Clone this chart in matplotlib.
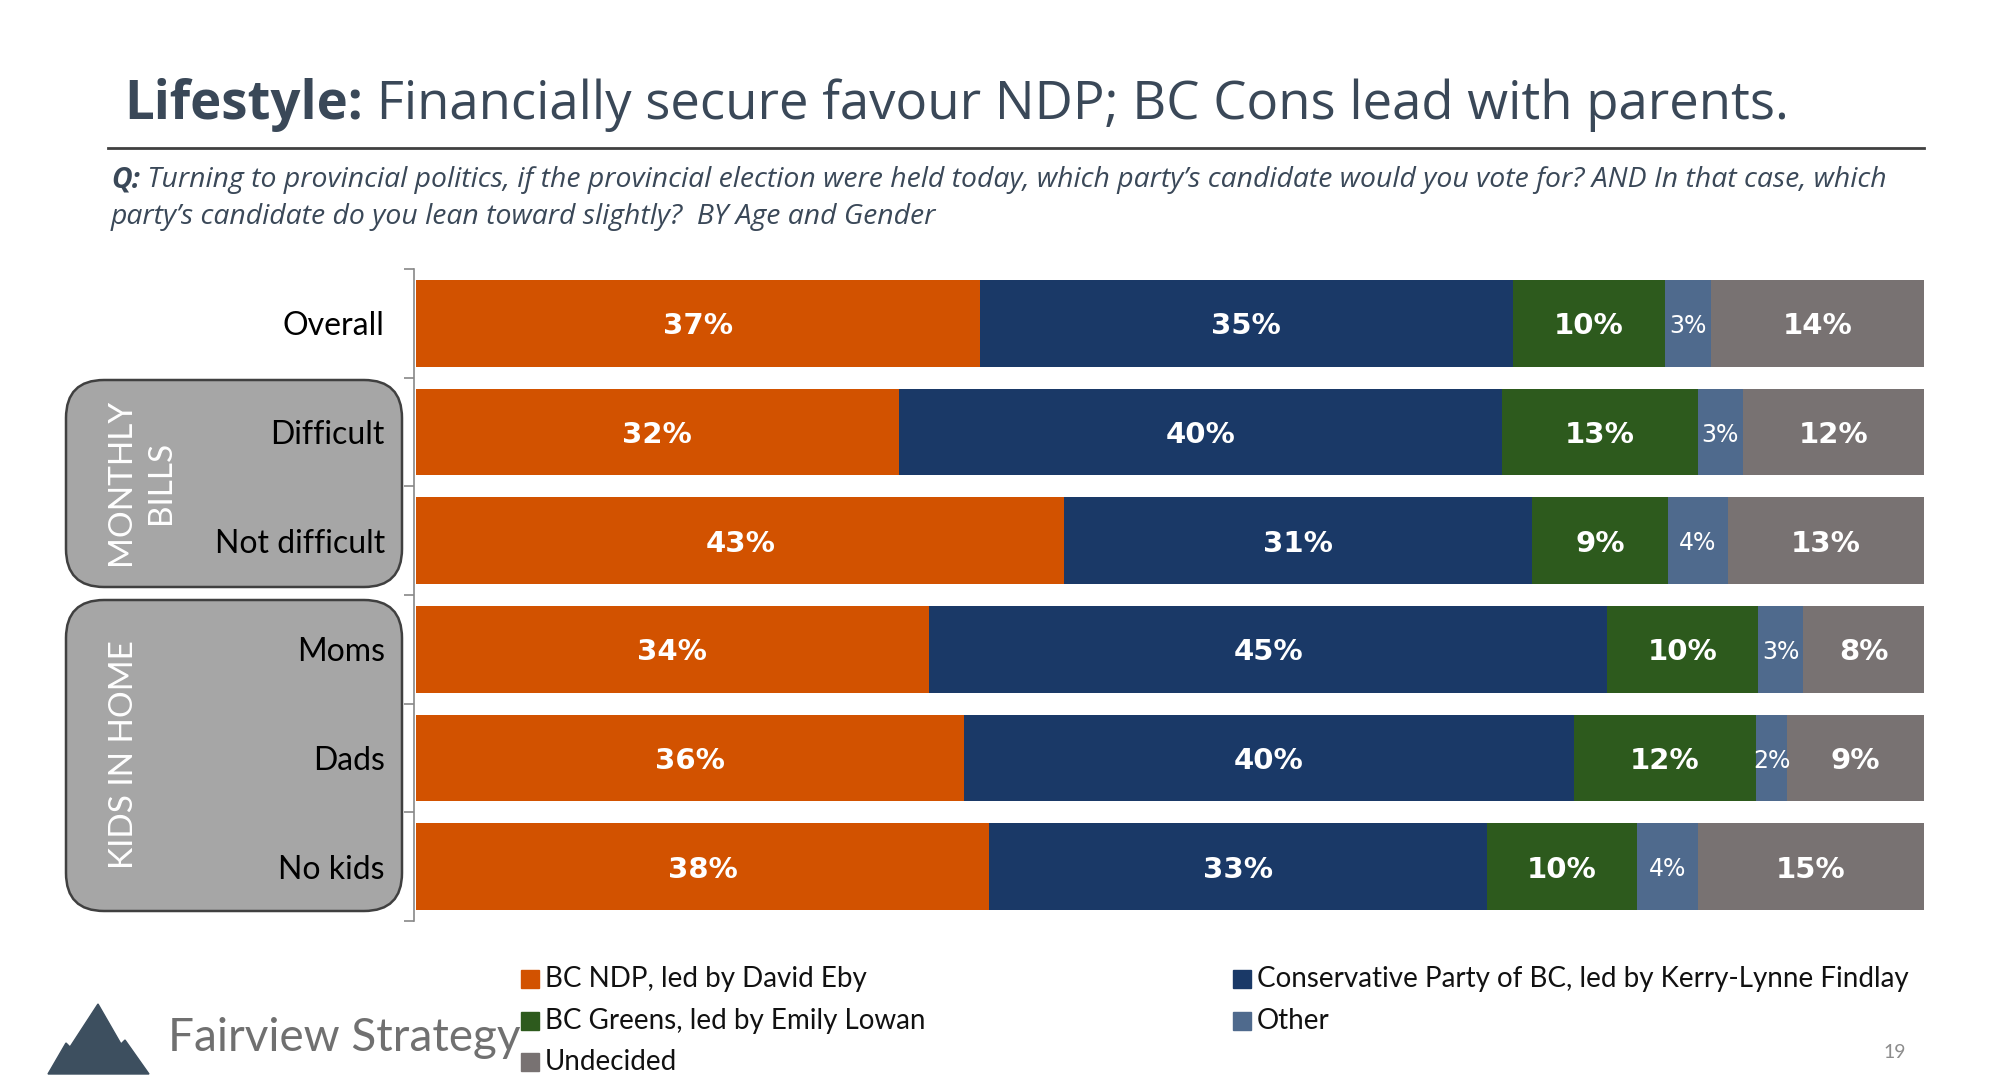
import matplotlib
matplotlib.use('Agg')
import matplotlib.pyplot as plt
import numpy as np
from matplotlib.patches import FancyBboxPatch, Rectangle, Polygon

# data (percent)
categories = ['Overall', 'Difficult', 'Not difficult', 'Moms', 'Dads', 'No kids']
parties = ['BC NDP, led by David Eby',
           'Conservative Party of BC, led by Kerry-Lynne Findlay',
           'BC Greens, led by Emily Lowan', 'Other', 'Undecided']
ndp = [37, 32, 43, 34, 36, 38]
cons = [35, 40, 31, 45, 40, 33]
greens = [10, 13, 9, 10, 12, 10]
other = [3, 3, 4, 3, 2, 4]
undecided = [14, 12, 13, 8, 9, 15]

colors = ['#D25200', '#1A3967', '#2D5A1D', '#4F6A8D', '#787272']
title_c = '#3A4858'

series = np.array([ndp, cons, greens, other, undecided], dtype=float)
shares = series / series.sum(axis=0) * 100  # 100% stacked

fig = plt.figure(figsize=(20, 10.84), dpi=100)

# overlay in pixel coords for slide furniture
ov = fig.add_axes([0, 0, 1, 1], zorder=0)
ov.set_xlim(0, 2000)
ov.set_ylim(1084, 0)
ov.axis('off')

ax = fig.add_axes([414 / 2000, 163 / 1084, 1510 / 2000, 652 / 1084], zorder=1)
ax.set_facecolor('none')

y = np.arange(len(categories))
left = np.zeros(len(categories))
for k, (name, col) in enumerate(zip(parties, colors)):
    ax.barh(y, shares[k], left=left, height=0.8, color=col, label=name)
    for i in range(len(categories)):
        cx = left[i] + shares[k][i] / 2
        if name == 'Other':
            ax.text(cx, i, f'{int(series[k][i])}%', ha='center',
                    va='center_baseline', color='white', fontsize=17,
                    family='DejaVu Sans')
        else:
            ax.text(cx, i, f'{int(series[k][i])}%', ha='center',
                    va='center_baseline', color='white', fontsize=21,
                    fontweight='bold', family='DejaVu Sans')
    left += shares[k]

ax.set_xlim(-0.13, 100)
ax.set_ylim(len(categories) - 0.5, -0.5)
ax.set_yticks(y)
ax.set_yticklabels(categories, family='Lato', fontsize=23, color='black')
ax.tick_params(axis='y', which='major', length=0, pad=21)
ax.set_yticks(np.arange(-0.5, len(categories)), minor=True)
ax.tick_params(axis='y', which='minor', length=7, color='#888888', width=1.2)
ax.xaxis.set_visible(False)
for s in ['top', 'right', 'bottom']:
    ax.spines[s].set_visible(False)
ax.spines['left'].set_color('#888888')
ax.spines['left'].set_linewidth(1.2)

# group boxes
for (x0, y0, w, h) in [(66, 380, 336, 207), (66, 600, 336, 311)]:
    ov.add_patch(FancyBboxPatch((x0 + 38, y0 + 38), w - 76, h - 76,
                                boxstyle='round,pad=38', fc='#A6A6A6',
                                ec='#404040', lw=1.8))
ov.text(141, 482, 'MONTHLY\nBILLS', rotation=90, ha='center', va='center',
        color='white', fontsize=24, family='Lato', linespacing=1.45)
ov.text(124, 755, 'KIDS IN HOME', rotation=90, ha='center', va='center',
        color='white', fontsize=24, family='Lato')

# title
t1 = ov.text(124, 119, 'Lifestyle:', fontsize=38, fontweight='bold',
             family='Open Sans', color=title_c, va='baseline')
ov.annotate(' Financially secure favour NDP; BC Cons lead with parents.',
            xy=(1, 0), xycoords=t1, va='bottom', ha='left', fontsize=38,
            family='Open Sans', color=title_c)
ov.plot([108, 1924], [148, 148], color='#404040', lw=2)

# question
q1 = ov.text(111, 187, 'Q:', fontsize=20.4, fontweight='bold', style='italic',
             family='Open Sans', color=title_c, va='baseline')
ov.annotate(" Turning to provincial politics, if the provincial election were held today, "
            "which party\u2019s candidate would you vote for? AND In that case, which",
            xy=(1, 0), xycoords=q1, va='bottom', ha='left', fontsize=20.4,
            style='italic', family='Open Sans', color=title_c)
ov.text(111, 224, "party\u2019s candidate do you lean toward slightly?  BY Age and Gender",
        fontsize=20.4, style='italic', family='Open Sans', color=title_c,
        va='baseline')

# legend (two columns, filled column-wise)
leg_pos = [(521, 979), (1233, 979), (521, 1021), (1233, 1021), (521, 1062)]
for (lx, ly), name, col in zip(leg_pos, parties, colors):
    ov.add_patch(Rectangle((lx, ly - 9), 18, 18, color=col))
    ov.text(lx + 24, ly, name, va='center', ha='left', fontsize=20,
            family='Lato', color='#111111')

# logo
ov.add_patch(Polygon([(48, 1074), (66, 1043), (70, 1047), (98, 1004),
                      (121, 1044), (125, 1040), (149, 1074)],
                     closed=True, color='#3D4F5F'))
ov.text(168, 1038, 'Fairview Strategy', va='center', ha='left', fontsize=33,
        family='Lato', color='#707070')
ov.text(1895, 1053, '19', ha='center', va='center', fontsize=14,
        family='Lato', color='#8C8C8C')

fig.savefig('out.png', dpi=100)
